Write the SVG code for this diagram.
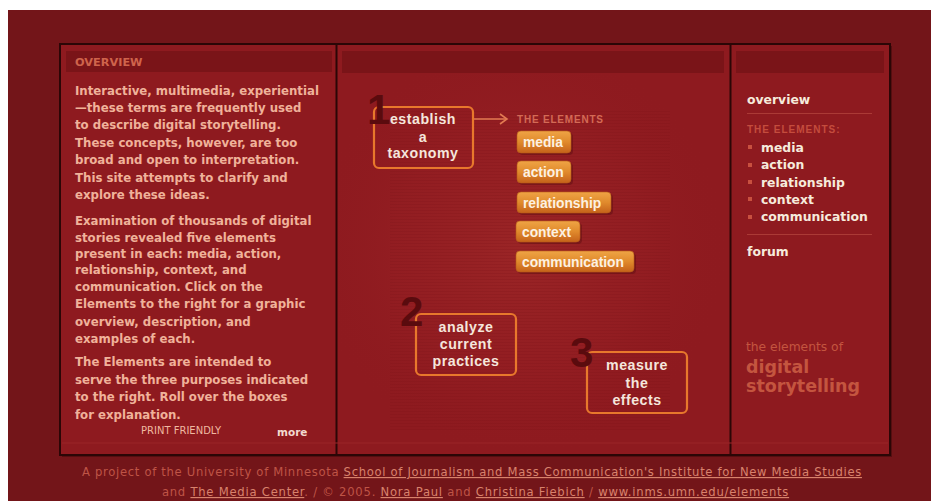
<svg xmlns="http://www.w3.org/2000/svg" width="931" height="501" viewBox="0 0 931 501">
<defs>
<style>
.body{font-family:"DejaVu Sans",sans-serif;font-weight:bold;font-size:11.75px;fill:#f0b29a}
.hdr{font-family:"DejaVu Sans",sans-serif;font-weight:bold;font-size:11.3px;fill:#cf644c}
.nav{font-family:"DejaVu Sans",sans-serif;font-weight:bold;font-size:12.4px;fill:#f6ebdc}
.cap{font-family:"Liberation Sans",sans-serif;font-weight:bold;font-size:10px;letter-spacing:0.8px}
.box{fill:none;stroke:#e8782c;stroke-width:2.2}
.boxt{font-family:"Liberation Sans",sans-serif;font-weight:bold;font-size:14.2px;fill:#f5e6dc;text-anchor:middle;letter-spacing:0.5px}
.num{font-family:"Liberation Sans",sans-serif;font-weight:bold;font-size:42px;fill:#5a0b0e}
.pill{fill:url(#pg);stroke:#b95c18;stroke-width:0.6}
.pshadow{fill:#5a0e10;opacity:0.45}
.pillt{font-family:"Liberation Sans",sans-serif;font-weight:bold;font-size:13.8px;fill:#fdf1e2}
.foot{font-family:"DejaVu Sans",sans-serif;font-size:11.6px;fill:#bf5446;text-anchor:middle}
.lnk{fill:#d9826c;text-decoration:underline}
.bul{fill:#c8503f}
.sep{stroke:#ab3a36;stroke-width:1}
.ttl{font-family:"DejaVu Sans",sans-serif;fill:#c4553f}
</style>
<linearGradient id="pg" x1="0" y1="0" x2="0" y2="1">
<stop offset="0" stop-color="#efa445"/>
<stop offset="0.5" stop-color="#e08a2c"/>
<stop offset="1" stop-color="#c5621a"/>
</linearGradient>
<radialGradient id="glow" cx="520" cy="250" r="210" gradientUnits="userSpaceOnUse">
<stop offset="0" stop-color="#a52e2c" stop-opacity="0.55"/>
<stop offset="0.6" stop-color="#9c2427" stop-opacity="0.3"/>
<stop offset="1" stop-color="#8e1a1f" stop-opacity="0"/>
</radialGradient>
<pattern id="scan" width="4" height="3" patternUnits="userSpaceOnUse">
<rect width="4" height="1" fill="#7a1216" opacity="0.35"/>
</pattern>
<marker id="chev" markerWidth="10" markerHeight="12" refX="8" refY="6" orient="auto" markerUnits="userSpaceOnUse">
<path d="M1,1 L8,6 L1,11" fill="none" stroke="#e27a52" stroke-width="1.6"/>
</marker>
</defs>

<!-- page background -->
<rect x="0" y="0" width="931" height="501" fill="#ffffff"/>
<rect x="8" y="10" width="923" height="491" fill="#731519"/>

<!-- main panel -->
<g id="panel">
<rect x="62" y="46" width="830" height="411" fill="#3a0708" opacity="0.5"/>
<rect x="60" y="44" width="830" height="411" fill="#8e1a1f" stroke="#2b0606" stroke-width="2"/>
<rect x="338" y="74" width="391" height="380" fill="url(#glow)"/>
<rect x="390" y="110" width="280" height="320" fill="url(#scan)" opacity="0.6"/>
<line x1="336.5" y1="44" x2="336.5" y2="455" stroke="#2b0606" stroke-width="2"/>
<line x1="730.5" y1="44" x2="730.5" y2="455" stroke="#2b0606" stroke-width="2"/>
<rect x="66" y="51" width="266" height="21" fill="#7a1418"/>
<rect x="342" y="51" width="382" height="22" fill="#7a1418"/>
<rect x="736" y="51" width="148" height="22" fill="#7a1418"/>
<line x1="62" y1="443" x2="888" y2="443" stroke="#9a2428" stroke-width="1"/>
</g>

<!-- left column -->
<g id="overview">
<text class="hdr" x="75" y="66">OVERVIEW</text>
<text class="body" x="75" y="94.5">Interactive, multimedia, experiential</text>
<text class="body" x="75" y="111.5">—these terms are frequently used</text>
<text class="body" x="75" y="129">to describe digital storytelling.</text>
<text class="body" x="75" y="146.5">These concepts, however, are too</text>
<text class="body" x="75" y="164">broad and open to interpretation.</text>
<text class="body" x="75" y="181.5">This site attempts to clarify and</text>
<text class="body" x="75" y="198.5">explore these ideas.</text>
<text class="body" x="75" y="224.5">Examination of thousands of digital</text>
<text class="body" x="75" y="241.5">stories revealed five elements</text>
<text class="body" x="75" y="258">present in each:  media, action,</text>
<text class="body" x="75" y="273.5">relationship, context, and</text>
<text class="body" x="75" y="290.5">communication. Click on the</text>
<text class="body" x="75" y="308">Elements to the right for a graphic</text>
<text class="body" x="75" y="325.5">overview, description, and</text>
<text class="body" x="75" y="343">examples of each.</text>
<text class="body" x="75" y="366">The Elements are intended to</text>
<text class="body" x="75" y="383.5">serve the three purposes indicated</text>
<text class="body" x="75" y="401">to the right. Roll over the boxes</text>
<text class="body" x="75" y="418.5">for explanation.</text>
<text x="141" y="434" font-family="'DejaVu Sans',sans-serif" font-size="10" fill="#f0b8a0">PRINT FRIENDLY</text>
<text x="277" y="436" font-family="'DejaVu Sans',sans-serif" font-weight="bold" font-size="10.5" fill="#f3d9cf">more</text>
</g>

<!-- connectors -->
<g id="connectors">
<line x1="474" y1="119" x2="507" y2="119" stroke="#e27a52" stroke-width="1.6" marker-end="url(#chev)"/>
</g>

<!-- purpose boxes -->
<g id="box1">
<rect class="box" x="374" y="107" width="99" height="61" rx="5"/>
<text class="num" x="367" y="124">1</text>
<text class="boxt" x="423" y="124">establish</text>
<text class="boxt" x="423" y="141.5">a</text>
<text class="boxt" x="423" y="158">taxonomy</text>
</g>
<g id="box2">
<rect class="box" x="416" y="314" width="100" height="61" rx="5"/>
<text class="num" x="400" y="326">2</text>
<text class="boxt" x="466" y="332">analyze</text>
<text class="boxt" x="466" y="349">current</text>
<text class="boxt" x="466" y="366">practices</text>
</g>
<g id="box3">
<rect class="box" x="587" y="352" width="100" height="61" rx="5"/>
<text class="num" x="570" y="367">3</text>
<text class="boxt" x="637" y="370">measure</text>
<text class="boxt" x="637" y="387.5">the</text>
<text class="boxt" x="637" y="405">effects</text>
</g>

<!-- elements -->
<g id="elements-title">
<text class="cap" x="517" y="123" fill="#d46a55">THE ELEMENTS</text>
</g>
<g id="el-media">
<rect class="pshadow" x="519" y="133" width="54" height="22" rx="4"/>
<rect class="pill" x="517" y="131" width="54" height="22" rx="4"/>
<text class="pillt" x="523" y="147">media</text>
</g>
<g id="el-action">
<rect class="pshadow" x="519" y="163" width="54" height="22" rx="4"/>
<rect class="pill" x="517" y="161" width="54" height="22" rx="4"/>
<text class="pillt" x="523" y="177">action</text>
</g>
<g id="el-relationship">
<rect class="pshadow" x="519" y="194" width="94" height="21" rx="4"/>
<rect class="pill" x="517" y="192" width="94" height="21" rx="4"/>
<text class="pillt" x="523" y="207.5">relationship</text>
</g>
<g id="el-context">
<rect class="pshadow" x="518" y="223" width="64" height="21" rx="4"/>
<rect class="pill" x="516" y="221" width="64" height="21" rx="4"/>
<text class="pillt" x="522" y="236.5">context</text>
</g>
<g id="el-communication">
<rect class="pshadow" x="518" y="253" width="118" height="21" rx="4"/>
<rect class="pill" x="516" y="251" width="118" height="21" rx="4"/>
<text class="pillt" x="522" y="266.5">communication</text>
</g>

<!-- right column -->
<g id="nav">
<text class="nav" x="747" y="103.5">overview</text>
<line class="sep" x1="747" y1="113.5" x2="872" y2="113.5"/>
<text class="cap" x="747" y="133" fill="#c44c3d" font-size="9.5" style="letter-spacing:1px">THE ELEMENTS:</text>
<rect class="bul" x="748" y="145" width="4" height="4"/>
<text class="nav" x="761" y="151.5">media</text>
<rect class="bul" x="748" y="163" width="4" height="4"/>
<text class="nav" x="761" y="169">action</text>
<rect class="bul" x="748" y="180" width="4" height="4"/>
<text class="nav" x="761" y="186.5">relationship</text>
<rect class="bul" x="748" y="197" width="4" height="4"/>
<text class="nav" x="761" y="203.5">context</text>
<rect class="bul" x="748" y="215" width="4" height="4"/>
<text class="nav" x="761" y="221">communication</text>
<line class="sep" x1="747" y1="234.5" x2="872" y2="234.5"/>
<text class="nav" x="747" y="256">forum</text>
</g>
<g id="title">
<text class="ttl" x="746" y="350.5" font-size="12.3">the elements of</text>
<text class="ttl" x="746" y="373" font-size="17.5" font-weight="bold">digital</text>
<text class="ttl" x="746" y="392" font-size="17.5" font-weight="bold">storytelling</text>
</g>

<!-- footer -->
<g id="footer">
<text class="foot" x="472" y="476" letter-spacing="0.68">A project of the University of Minnesota <tspan class="lnk">School of Journalism and Mass Communication's Institute for New Media Studies</tspan></text>
<text class="foot" x="475.5" y="496" letter-spacing="0.76">and <tspan class="lnk">The Media Center</tspan>. / © 2005. <tspan class="lnk">Nora Paul</tspan> and <tspan class="lnk">Christina Fiebich</tspan> / <tspan class="lnk">www.inms.umn.edu/elements</tspan></text>
</g>
</svg>
